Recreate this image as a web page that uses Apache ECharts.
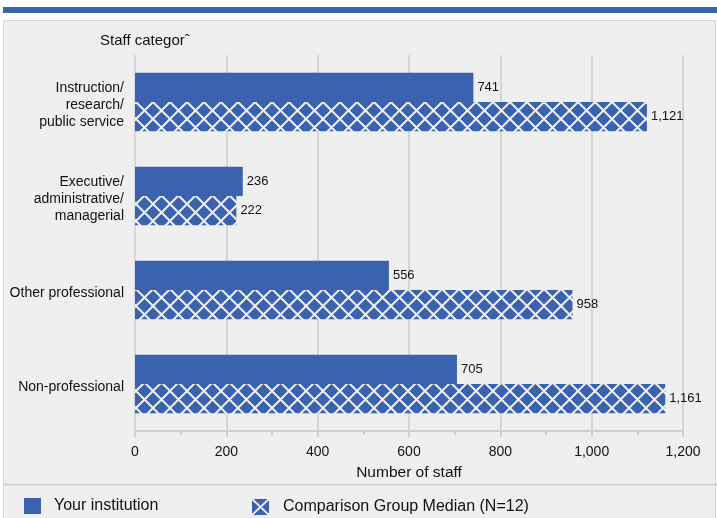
<!DOCTYPE html>
<html>
<head>
<meta charset="utf-8">
<script src="https://cdn.jsdelivr.net/npm/echarts@6/dist/echarts.min.js"></script>
<style>html,body{margin:0;padding:0;background:#fff}#c{width:717px;height:518px}</style>
</head>
<body>
<div id="c"></div>
<script>
const categories = ["Instruction/\nresearch/\npublic service", "Executive/\nadministrative/\nmanagerial", "Other professional", "Non-professional"];
const yourInstitution = [741, 236, 556, 705];
const comparisonMedian = [1121, 222, 958, 1161];
const xTicks = [0, 200, 400, 600, 800, 1000, 1200];
const seriesNames = ["Your institution", "Comparison Group Median (N=12)"];

const BLUE = '#3a62ae';
function makeHatch(w, h) {
  const cv = document.createElement('canvas');
  cv.width = w; cv.height = h;
  const ctx = cv.getContext('2d');
  ctx.fillStyle = BLUE; ctx.fillRect(0, 0, w, h);
  ctx.strokeStyle = '#f0f0f0'; ctx.lineWidth = 2;
  ctx.beginPath();
  ctx.moveTo(0, 0); ctx.lineTo(w, h);
  ctx.moveTo(w, 0); ctx.lineTo(0, h);
  ctx.stroke();
  return cv;
}
const hatch = makeHatch(17, 17);
const iconCv = makeHatch(17, 16);
const fmt = v => v.toLocaleString('en-US');
const FONT = "'Liberation Sans', Arial, sans-serif";

const chart = echarts.init(document.getElementById('c'));
chart.setOption({
  backgroundColor: '#ffffff',
  animation: false,
  textStyle: { fontFamily: FONT },
  graphic: [
    { type: 'rect', z: -10, shape: { x: 3.5, y: 20.5, width: 712, height: 500 }, style: { fill: '#efefef', stroke: '#d6d6d6', lineWidth: 1 } },
    { type: 'rect', z: -10, shape: { x: 3, y: 7, width: 714, height: 6 }, style: { fill: BLUE } },
    { type: 'line', z: -10, shape: { x1: 3, y1: 484.5, x2: 717, y2: 484.5 }, style: { stroke: '#d4d4d4', lineWidth: 2 } }
  ],
  title: {
    text: 'Staff categorˆ', left: 95, top: 28,
    textStyle: { fontFamily: FONT, fontSize: 15, fontWeight: 'normal', color: '#111' }
  },
  legend: [
    { left: 19, top: 493, itemWidth: 17, itemHeight: 16, icon: 'rect', data: [seriesNames[0]],
      textStyle: { fontFamily: FONT, fontSize: 16, color: '#111', padding: [0, 0, 0, 8] }, selectedMode: false },
    { left: 247, top: 494, itemWidth: 17, itemHeight: 16, data: [{ name: seriesNames[1], icon: 'image://' + iconCv.toDataURL() }],
      textStyle: { fontFamily: FONT, fontSize: 16, color: '#111', padding: [0, 0, 0, 9] }, selectedMode: false }
  ],
  grid: { left: 135, right: 34, top: 55, bottom: 87, containLabel: false },
  xAxis: {
    type: 'value', min: xTicks[0], max: xTicks[xTicks.length - 1], interval: 200,
    name: 'Number of staff', nameLocation: 'middle', nameGap: 34,
    nameTextStyle: { fontFamily: FONT, fontSize: 15.5, color: '#111' },
    axisLine: { show: true, lineStyle: { color: '#d0d0d0', width: 2 } },
    axisTick: { show: true, length: 6, lineStyle: { color: '#d0d0d0', width: 2 } },
    minorTick: { show: true, splitNumber: 2, length: 4, lineStyle: { color: '#d0d0d0', width: 2 } },
    axisLabel: { formatter: v => fmt(v), fontFamily: FONT, fontSize: 14, color: '#111', margin: 14 },
    splitLine: { show: true, lineStyle: { color: '#d6d6d6', width: 2 } }
  },
  yAxis: {
    type: 'category', data: categories, inverse: true,
    axisLine: { show: false }, axisTick: { show: false },
    axisLabel: {
      margin: 11, align: 'right',
      formatter: v => '{p| }\n' + v.split('\n').map(l => '{t|' + l + '}').join('\n'),
      rich: {
        p: { fontSize: 1, lineHeight: 7, height: 7 },
        t: { fontFamily: FONT, fontSize: 14, color: '#111', lineHeight: 17 }
      }
    }
  },
  series: [
    { name: seriesNames[0], type: 'bar', data: yourInstitution, barGap: '0%', barCategoryGap: '38%',
      itemStyle: { color: BLUE },
      label: { show: true, position: 'right', distance: 4, formatter: p => fmt(p.value), fontFamily: FONT, fontSize: 13, color: '#111' } },
    { name: seriesNames[1], type: 'bar', data: comparisonMedian,
      itemStyle: { color: { image: hatch, repeat: 'repeat' } },
      label: { show: true, position: 'right', distance: 4, formatter: p => fmt(p.value), fontFamily: FONT, fontSize: 13, color: '#111' } }
  ]
});
</script>
</body>
</html>
